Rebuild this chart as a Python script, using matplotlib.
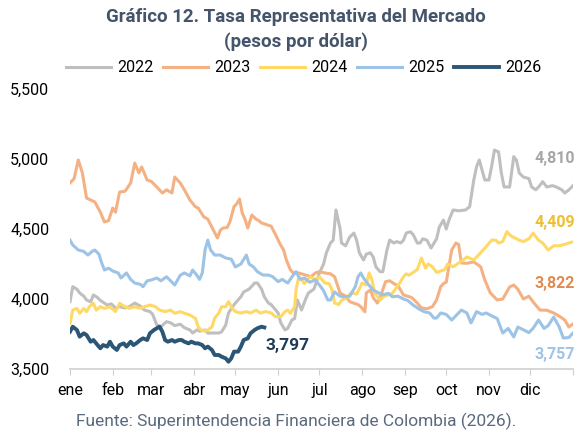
import matplotlib
matplotlib.use('Agg')
import matplotlib.pyplot as plt

plt.rcParams['font.family'] = ['Roboto', 'DejaVu Sans']

# day of year / TRM values
days_2022 = [0, 2, 5, 7, 10, 12, 15, 17, 20, 22, 25, 27, 30, 33, 36, 40, 43, 47, 51, 54,
             58, 60, 63, 66, 70, 73, 76, 80, 83, 87, 89, 92, 94, 98, 100, 104, 108, 110, 113, 115,
             118, 120, 124, 126, 130, 134, 136, 139, 141, 144, 146, 148, 151, 153, 156, 158, 161, 163, 165, 168,
             171, 173, 177, 181, 184, 186, 189, 191, 193, 196, 197, 200, 203, 206, 208, 210, 213, 215, 218, 220,
             222, 225, 227, 230, 232, 235, 237, 240, 242, 244, 247, 249, 252, 254, 256, 259, 262, 266, 268, 271,
             273, 275, 278, 282, 287, 290, 293, 295, 297, 299, 301, 304, 306, 308, 311, 313, 315, 319, 322, 324,
             326, 329, 333, 335, 338, 340, 343, 346, 350, 353, 357, 359, 362, 365]
trm_2022 = [3981, 4088, 4070, 4043, 4020, 3993, 3980, 4029, 4010, 3990, 3970, 3957, 3965, 3936, 3945, 3936, 3945, 3971, 3950, 3921,
            3910, 3890, 3814, 3802, 3838, 3830, 3810, 3820, 3795, 3779, 3757, 3779, 3770, 3779, 3757, 3757, 3757, 3765, 3814, 3900,
            3945, 3971, 4016, 4050, 4071, 4114, 4114, 4071, 4016, 3971, 3960, 3936, 3900, 3829, 3779, 3790, 3850, 3860, 3993, 3921,
            4000, 4043, 4071, 4186, 4250, 4329, 4400, 4420, 4636, 4500, 4400, 4380, 4443, 4471, 4420, 4329, 4279, 4320, 4330, 4300,
            4229, 4195, 4195, 4350, 4421, 4400, 4410, 4400, 4420, 4471, 4480, 4460, 4400, 4400, 4430, 4420, 4364, 4430, 4514, 4564,
            4500, 4564, 4636, 4630, 4636, 4659, 4850, 4945, 4993, 4920, 4850, 4850, 4950, 5064, 5050, 4900, 4800, 4800, 5017, 4990,
            4900, 4871, 4860, 4800, 4780, 4800, 4838, 4800, 4810, 4800, 4779, 4757, 4779, 4810]

days_2023 = [0, 3, 6, 9, 12, 18, 22, 25, 28, 31, 33, 36, 40, 44, 47, 50, 52, 56, 59, 63,
             67, 70, 74, 76, 80, 83, 87, 91, 93, 97, 100, 104, 107, 109, 111, 114, 116, 119, 121, 123,
             125, 127, 129, 132, 135, 137, 139, 143, 146, 150, 152, 155, 157, 160, 162, 166, 171, 175, 178, 181,
             185, 189, 192, 196, 200, 203, 206, 209, 211, 214, 215, 218, 220, 223, 225, 229, 232, 235, 238, 242,
             245, 248, 252, 255, 259, 263, 266, 269, 271, 273, 277, 280, 282, 284, 288, 293, 298, 301, 305, 310,
             314, 319, 322, 325, 329, 333, 336, 341, 346, 351, 356, 359, 362, 365]
trm_2023 = [4829, 4860, 4993, 4900, 4721, 4693, 4621, 4550, 4560, 4650, 4620, 4764, 4770, 4829, 4971, 4900, 4943, 4850, 4840, 4800,
            4757, 4780, 4757, 4871, 4829, 4780, 4707, 4659, 4650, 4588, 4570, 4493, 4436, 4490, 4507, 4510, 4550, 4659, 4680, 4714,
            4614, 4570, 4507, 4600, 4570, 4560, 4543, 4530, 4520, 4443, 4400, 4350, 4279, 4207, 4186, 4186, 4171, 4160, 4186, 4195,
            4186, 4180, 4159, 4043, 4020, 3981, 3970, 3960, 3945, 3909, 4043, 4065, 4010, 3971, 4010, 4124, 4130, 4110, 4095, 4029,
            4020, 4010, 3971, 3936, 3930, 3945, 3993, 4088, 4110, 4120, 4350, 4400, 4390, 4257, 4255, 4265, 4230, 4136, 4043, 3993,
            4000, 4086, 4100, 4070, 4000, 4020, 3980, 3921, 3920, 3900, 3871, 3850, 3800, 3822]

days_2024 = [0, 2, 5, 7, 10, 12, 14, 17, 19, 22, 25, 29, 33, 36, 40, 43, 47, 51, 54, 58,
             62, 65, 69, 73, 76, 80, 83, 87, 91, 93, 95, 98, 100, 103, 105, 108, 110, 113, 115, 118,
             120, 124, 128, 131, 135, 138, 142, 146, 149, 153, 156, 158, 160, 163, 164, 166, 168, 170, 174, 178,
             181, 185, 188, 190, 192, 195, 197, 201, 204, 208, 212, 215, 217, 219, 221, 225, 228, 231, 234, 236,
             239, 242, 244, 246, 249, 252, 255, 258, 260, 263, 266, 269, 272, 274, 278, 280, 284, 288, 293, 297,
             302, 306, 309, 311, 314, 317, 320, 322, 326, 329, 333, 336, 340, 343, 347, 351, 355, 359, 362, 365]
trm_2024 = [3826, 3921, 3933, 3898, 3933, 3910, 3945, 3969, 3921, 3945, 3933, 3945, 3910, 3969, 3945, 3933, 3945, 3933, 3945, 3957,
            3945, 3921, 3910, 3921, 3898, 3910, 3898, 3886, 3862, 3802, 3779, 3770, 3779, 3800, 3864, 3900, 3945, 3945, 3981, 3930,
            3910, 3900, 3910, 3900, 3921, 3900, 3910, 3900, 3874, 3874, 3910, 3921, 3898, 3945, 4064, 4159, 4140, 4110, 4159, 4140,
            4159, 4114, 4110, 4070, 3971, 3960, 3990, 4010, 4043, 4035, 4114, 4100, 4186, 4140, 4043, 3993, 4020, 4030, 4040, 4070,
            4110, 4159, 4180, 4170, 4190, 4210, 4293, 4220, 4250, 4230, 4190, 4200, 4210, 4250, 4230, 4243, 4270, 4300, 4279, 4320,
            4374, 4421, 4420, 4400, 4410, 4481, 4450, 4440, 4420, 4410, 4430, 4471, 4420, 4400, 4350, 4380, 4380, 4390, 4400, 4409]

days_2025 = [0, 2, 6, 10, 13, 16, 18, 21, 23, 25, 28, 31, 35, 37, 41, 44, 47, 51, 53, 56,
             59, 63, 66, 70, 73, 76, 80, 83, 87, 89, 92, 94, 96, 98, 100, 102, 105, 109, 113, 117,
             120, 124, 128, 130, 133, 136, 140, 144, 147, 151, 154, 158, 162, 164, 167, 170, 174, 178, 181, 184,
             187, 189, 192, 196, 199, 203, 207, 209, 211, 213, 216, 220, 224, 227, 231, 234, 238, 242, 245, 249,
             253, 257, 261, 264, 266, 269, 273, 277, 280, 284, 288, 291, 295, 299, 302, 306, 310, 314, 318, 322,
             325, 329, 333, 336, 340, 344, 347, 351, 355, 358, 362, 365]
trm_2025 = [4421, 4386, 4350, 4340, 4314, 4340, 4350, 4320, 4257, 4207, 4220, 4200, 4186, 4150, 4186, 4140, 4114, 4105, 4088, 4130,
            4136, 4150, 4130, 4159, 4130, 4100, 4170, 4186, 4165, 4207, 4170, 4140, 4186, 4350, 4421, 4350, 4314, 4314, 4293, 4285,
            4229, 4250, 4314, 4250, 4230, 4195, 4171, 4171, 4160, 4124, 4140, 4114, 4171, 4195, 4140, 4150, 4120, 4136, 4100, 4060,
            3993, 3993, 4050, 4020, 4016, 4020, 4088, 4159, 4186, 4150, 4110, 4064, 4043, 4030, 4040, 4016, 4020, 4000, 3990, 3957,
            3930, 3909, 3900, 3864, 3864, 3900, 3890, 3850, 3880, 3921, 3900, 3829, 3910, 3890, 3900, 3880, 3860, 3757, 3790, 3729,
            3800, 3780, 3760, 3790, 3850, 3790, 3810, 3871, 3800, 3721, 3725, 3757]

days_2026 = [0, 2, 5, 7, 10, 12, 15, 17, 19, 22, 24, 27, 29, 31, 34, 36, 39, 41, 44, 46,
             48, 51, 53, 56, 58, 61, 63, 65, 67, 69, 71, 74, 76, 79, 81, 83, 86, 88, 91, 93,
             96, 98, 100, 103, 105, 108, 110, 113, 115, 117, 119, 122, 124, 126, 129, 131, 134, 136, 139, 141]
trm_2026 = [3767, 3802, 3779, 3731, 3755, 3743, 3695, 3707, 3683, 3648, 3671, 3660, 3695, 3660, 3636, 3671, 3683, 3660, 3695, 3671,
            3683, 3707, 3719, 3707, 3755, 3779, 3791, 3802, 3767, 3707, 3695, 3707, 3695, 3707, 3707, 3695, 3683, 3695, 3683, 3683,
            3671, 3648, 3660, 3636, 3600, 3600, 3588, 3576, 3552, 3576, 3624, 3624, 3660, 3707, 3719, 3755, 3779, 3791, 3802, 3797]

month_starts = [0, 31, 59, 90, 120, 151, 181, 212, 243, 273, 304, 334, 365]
month_labels = ['ene', 'feb', 'mar', 'abr', 'may', 'jun', 'jul', 'ago', 'sep', 'oct', 'nov', 'dic', '']
y_ticks = [3500, 4000, 4500, 5000, 5500]

series = [
    ('2022', days_2022, trm_2022, '#BFBFBF', 2.2),
    ('2023', days_2023, trm_2023, '#F4B183', 2.2),
    ('2024', days_2024, trm_2024, '#FFD966', 2.2),
    ('2025', days_2025, trm_2025, '#9DC3E6', 2.2),
    ('2026', days_2026, trm_2026, '#2B5676', 2.8),
]

fig = plt.figure(figsize=(5.75, 4.32), dpi=100)
ax = fig.add_axes([70 / 575, 1 - 369 / 432, 503 / 575, 280 / 432])

for name, d, v, col, lw in series:
    ax.plot(d, v, color=col, lw=lw, label=name, solid_joinstyle='round')

ax.set_xlim(0, 365)
ax.set_ylim(3500, 5500)
ax.set_xticks(month_starts)
ax.set_xticklabels(month_labels, fontsize=11.5)
ax.set_yticks(y_ticks)
ax.set_yticklabels([f'{t:,}' for t in y_ticks], fontsize=11.5, ha='left')
ax.tick_params(axis='y', length=0, pad=43)
ax.tick_params(axis='x', length=4, color='#D0D0D0', pad=6)
for s in ['top', 'right', 'left']:
    ax.spines[s].set_visible(False)
ax.spines['bottom'].set_color('#D0D0D0')
ax.spines['bottom'].set_linewidth(1.2)

# end labels
ax.text(337, 5000, '4,810', color='#A6A6A6', fontsize=11.5, fontweight='bold', va='center', ha='left')
ax.text(337, 4543, '4,409', color='#EDBF30', fontsize=11.5, fontweight='bold', va='center', ha='left')
ax.text(337, 4114, '3,822', color='#E08B52', fontsize=11.5, fontweight='bold', va='center', ha='left')
ax.text(337, 3600, '3,757', color='#9DC3E6', fontsize=11.5, fontweight='bold', va='center', ha='left', clip_on=False)
ax.text(142, 3671, '3,797', color='#1F3B57', fontsize=12.5, fontweight='bold', va='center', ha='left')

title_col = '#44546A'
fig.text(296 / 575, 1 - 17 / 432, 'Gráfico 12. Tasa Representativa del Mercado',
         ha='center', va='center', fontsize=13.5, fontweight='bold', color=title_col)
fig.text(296 / 575, 1 - 42 / 432, '(pesos por dólar)',
         ha='center', va='center', fontsize=13.5, fontweight='bold', color=title_col)
fig.legend(loc='center', bbox_to_anchor=(304 / 575, 1 - 68 / 432), ncol=5, frameon=False,
           fontsize=11.5, handlelength=2.8, columnspacing=0.6, handletextpad=0.4)
fig.text(296 / 575, 1 - 421 / 432, 'Fuente: Superintendencia Financiera de Colombia (2026).',
         ha='center', va='center', fontsize=12.5, color='#5A6A7E')

fig.savefig('out.png', dpi=100)
